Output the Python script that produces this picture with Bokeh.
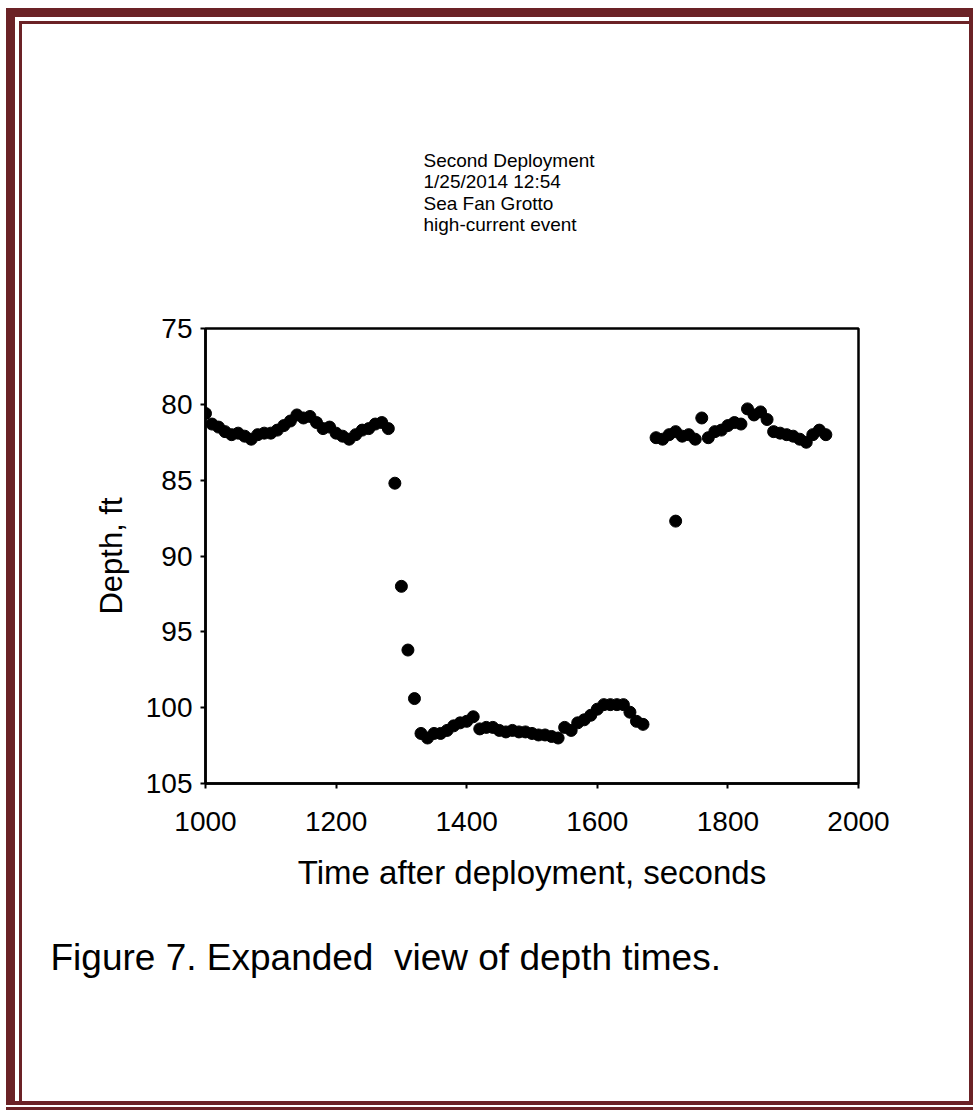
from bokeh.plotting import figure
from bokeh.models import Range1d, FixedTicker, Title
from bokeh.embed import file_html
from bokeh.resources import INLINE

# ---- data ----
time_s = list(range(1000, 1680, 10)) + [1720] + list(range(1690, 1960, 10))
depth_ft = [
    80.6, 81.3, 81.5, 81.8, 82.0, 81.9, 82.1, 82.3, 82.0, 81.9,
    81.9, 81.7, 81.4, 81.1, 80.7, 80.9, 80.8, 81.2, 81.6, 81.5,
    81.9, 82.1, 82.3, 82.0, 81.7, 81.6, 81.3, 81.2, 81.6,
    85.2, 92.0, 96.2, 99.4,
    101.7, 102.0, 101.7, 101.7, 101.5, 101.2, 101.0, 100.9, 100.6, 101.4,
    101.3, 101.3, 101.5, 101.6, 101.5, 101.6, 101.6, 101.7, 101.8, 101.8,
    101.9, 102.0, 101.3, 101.5, 101.0, 100.8, 100.5, 100.1, 99.8, 99.8,
    99.8, 99.8, 100.3, 100.9, 101.1,
    87.7,
    82.2, 82.3, 82.0, 81.8, 82.1, 82.0, 82.3, 80.9, 82.2, 81.8,
    81.7, 81.4, 81.2, 81.3, 80.3, 80.7, 80.5, 81.0, 81.8, 81.9,
    82.0, 82.1, 82.3, 82.5, 82.0, 81.7, 82.0,
]
x_ticks = [1000, 1200, 1400, 1600, 1800, 2000]
y_ticks = [75, 80, 85, 90, 95, 100, 105]
title_lines = ["Second Deployment", "1/25/2014 12:54", "Sea Fan Grotto", "high-current event"]
x_label = "Time after deployment, seconds"
y_label = "Depth, ft"
caption = "Figure 7. Expanded\u00a0 view of depth times."

FONT = "Liberation Sans"
MAROON = "#6b2226"

W, H = 975, 1111
BL, BR, BT, BB = 205, 117, 328, 328


def band(x, y, w, h):
    return f"linear-gradient({MAROON},{MAROON}) {x}px {y}px / {w}px {h}px no-repeat"


page_bg = ", ".join([
    band(6, 8, 9, 1097),      # left thick
    band(6, 8, 967, 9),       # top thick
    band(969, 8, 4, 1097),    # right
    band(6, 1101, 967, 4),    # bottom
    band(19, 21, 3, 1080),    # inner thin left
    band(19, 21, 950, 3),     # inner thin top
    band(6, 1107, 967, 3),    # outer thin bottom
]) + ", white"

p = figure(width=W, height=H, output_backend="svg", toolbar_location=None,
           x_range=Range1d(1000, 2000), y_range=Range1d(105, 75),
           min_border_left=BL, min_border_right=BR,
           min_border_top=BT, min_border_bottom=BB,
           styles={"background": page_bg})
p.background_fill_color = "white"
p.border_fill_color = None
p.grid.visible = False
p.outline_line_color = "black"
p.outline_line_width = 2.5

for ax in (p.xaxis, p.yaxis):
    ax.axis_line_width = 2.5
    ax.axis_line_color = "black"
    ax.major_tick_line_width = 2
    ax.major_tick_line_color = "black"
    ax.major_tick_out = 5
    ax.major_tick_in = 0
    ax.minor_tick_out = 0
    ax.minor_tick_in = 0
    ax.major_label_text_font = FONT
    ax.major_label_text_font_size = "28px"
    ax.major_label_text_color = "black"
    ax.axis_label_text_font = FONT
    ax.axis_label_text_font_style = "normal"
    ax.axis_label_text_color = "black"

p.xaxis.axis_label_text_font_size = "33px"
p.yaxis.axis_label_text_font_size = "31px"
p.xaxis.ticker = FixedTicker(ticks=x_ticks)
p.yaxis.ticker = FixedTicker(ticks=y_ticks)
p.xaxis.axis_label = x_label
p.yaxis.axis_label = y_label
p.xaxis.major_label_standoff = 23
p.yaxis.major_label_standoff = 8
p.xaxis.axis_label_standoff = 20
p.yaxis.axis_label_standoff = 14

p.scatter(time_s, depth_ft, size=12, color="black", marker="circle")

# title block above the frame
p.add_layout(Title(text="\n".join(title_lines), text_font=FONT, text_font_size="19px",
                   text_font_style="normal", text_color="black",
                   text_line_height=1.015,
                   align="left", offset=423 - BL, standoff=187), "above")

# caption below the axis
p.add_layout(Title(text=caption, text_font=FONT, text_font_size="37px",
                   text_font_style="normal", text_color="black",
                   align="left", offset=50 - BL, standoff=82), "below")

open("out.html", "w").write(file_html(p, INLINE))
